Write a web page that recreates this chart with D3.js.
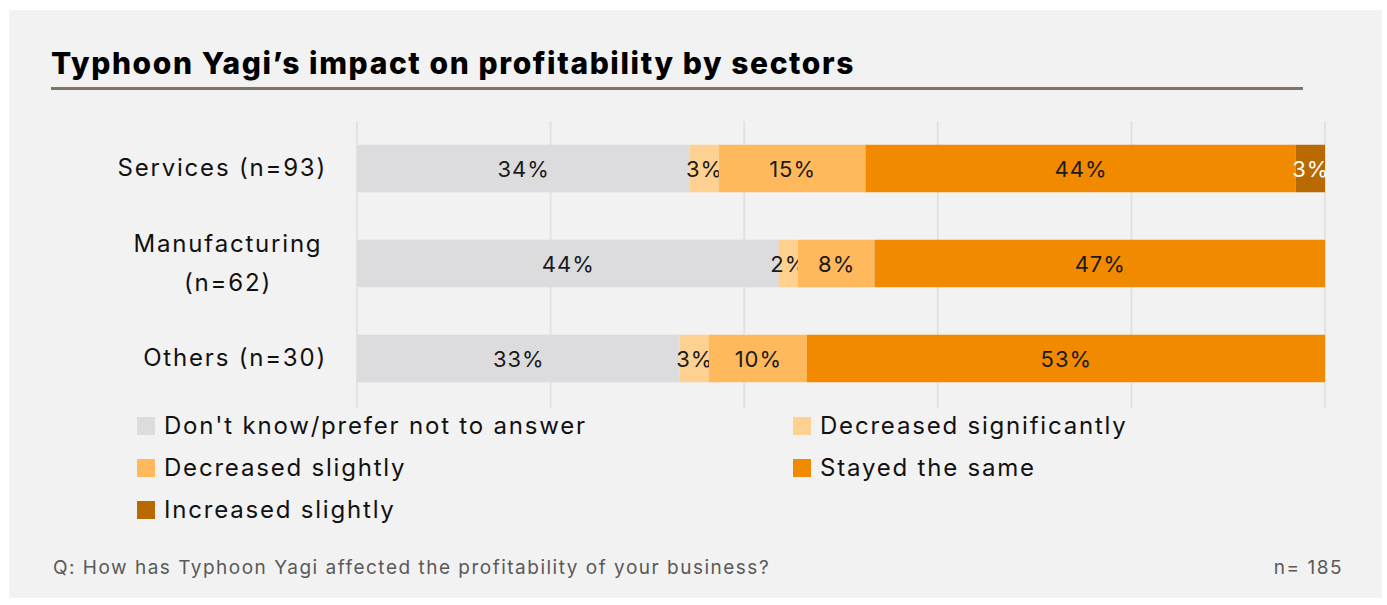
<!DOCTYPE html>
<html>
<head>
<meta charset="utf-8">
<script src="https://cdn.jsdelivr.net/npm/d3@7"></script>
<style>
  html, body { margin: 0; padding: 0; background: #ffffff; }
  svg { display: block; }
</style>
</head>
<body>
<svg id="chart" width="1387" height="605"></svg>
<script>
// Sectors and their response shares (percent of respondents)
const sectors = ["Services (n=93)", "Manufacturing (n=62)", "Others (n=30)"];
const sectorLines = [["Services (n=93)"], ["Manufacturing", "(n=62)"], ["Others (n=30)"]];
const responses = ["Don't know/prefer not to answer", "Decreased significantly", "Decreased slightly", "Stayed the same", "Increased slightly"];
const dontKnow      = [34, 44, 33];
const decreasedSig  = [3, 2, 3];
const decreasedSl   = [15, 8, 10];
const stayedSame    = [44, 47, 53];
const increasedSl   = [3, 0, 0];
const colors = ["#dcdcde", "#ffd190", "#ffb85c", "#f28a00", "#b86a00"];
const labelColors = ["#1a1a1a", "#1a1a1a", "#1a1a1a", "#1a1a1a", "#ffffff"];
const gridTicks = [0, 0.2, 0.4, 0.6, 0.8, 1];

const seriesValues = [dontKnow, decreasedSig, decreasedSl, stayedSame, increasedSl];
const rows = sectors.map((s, i) => {
  const r = { sector: s };
  responses.forEach((k, j) => { r[k] = seriesValues[j][i]; });
  return r;
});

const svg = d3.select("#chart");
const font = "'Inter', 'Open Sans', sans-serif";

// Panel background
svg.append("rect").attr("x", 9).attr("y", 10).attr("width", 1373).attr("height", 588).attr("fill", "#f2f2f2");

// Title and rule
svg.append("text").attr("x", 51).attr("y", 74)
  .attr("font-family", font).attr("font-weight", 800).attr("font-size", 30)
  .attr("letter-spacing", 1.6).attr("fill", "#000")
  .text("Typhoon Yagi’s impact on profitability by sectors");
svg.append("rect").attr("x", 51).attr("y", 87).attr("width", 1252).attr("height", 3).attr("fill", "#7f7567");

// Scales
const x = d3.scaleLinear().domain([0, 1]).range([357, 1325]);
const y = d3.scaleBand().domain(sectors).range([121, 406]).paddingInner(0.5).paddingOuter(0.25);

// Gridlines
svg.append("g").selectAll("line").data(gridTicks).join("line")
  .attr("x1", d => x(d)).attr("x2", d => x(d))
  .attr("y1", 121).attr("y2", 408)
  .attr("stroke", "#e2e2e2").attr("stroke-width", 2);

// Stacked, normalised to the full width
const stack = d3.stack().keys(responses).offset(d3.stackOffsetExpand);
const layers = stack(rows);

const g = svg.append("g");
layers.forEach((layer, li) => {
  const lg = g.append("g");
  lg.selectAll("rect").data(layer).join("rect")
    .attr("x", d => x(d[0]))
    .attr("y", d => y(d.data.sector))
    .attr("width", d => Math.max(0, x(d[1]) - x(d[0])))
    .attr("height", y.bandwidth())
    .attr("fill", colors[li]);
  lg.selectAll("text").data(layer.filter(d => d.data[layer.key] > 0)).join("text")
    .attr("x", d => (x(d[0]) + x(d[1])) / 2 + 0.5)
    .attr("y", d => y(d.data.sector) + y.bandwidth() / 2 + 2)
    .attr("text-anchor", "middle").attr("dominant-baseline", "middle")
    .attr("font-family", font).attr("font-size", 22).attr("letter-spacing", 1)
    .attr("fill", labelColors[li])
    .text(d => d.data[layer.key] + "%");
});

// Category labels
sectors.forEach((s, i) => {
  const lines = sectorLines[i];
  const cy = y(s) + y.bandwidth() / 2;
  const lh = 39;
  lines.forEach((ln, k) => {
    svg.append("text")
      .attr("x", lines.length > 1 ? 228 : 327)
      .attr("text-anchor", lines.length > 1 ? "middle" : "end")
      .attr("y", cy + (k - (lines.length - 1) / 2) * lh + 1)
      .attr("dominant-baseline", "middle")
      .attr("font-family", font).attr("font-size", 24).attr("letter-spacing", 1.8)
      .attr("fill", "#111")
      .text(ln);
  });
});

// Legend
const legendPos = [[137, 426], [793, 426], [137, 468], [793, 468], [137, 510]];
responses.forEach((r, i) => {
  const [lx, ly] = legendPos[i];
  svg.append("rect").attr("x", lx).attr("y", ly - 9).attr("width", 18).attr("height", 18).attr("fill", colors[i]);
  svg.append("text").attr("x", lx + 27).attr("y", ly + 1).attr("dominant-baseline", "middle")
    .attr("font-family", font).attr("font-size", 24).attr("letter-spacing", 1.8)
    .attr("fill", "#111").text(r);
});

// Footer
svg.append("text").attr("x", 53).attr("y", 574)
  .attr("font-family", font).attr("font-size", 19).attr("letter-spacing", 1.5).attr("fill", "#595959")
  .text("Q: How has Typhoon Yagi affected the profitability of your business?");
svg.append("text").attr("x", 1343).attr("y", 574).attr("text-anchor", "end")
  .attr("font-family", font).attr("font-size", 19).attr("letter-spacing", 1.5).attr("fill", "#595959")
  .text("n= 185");
</script>
</body>
</html>
